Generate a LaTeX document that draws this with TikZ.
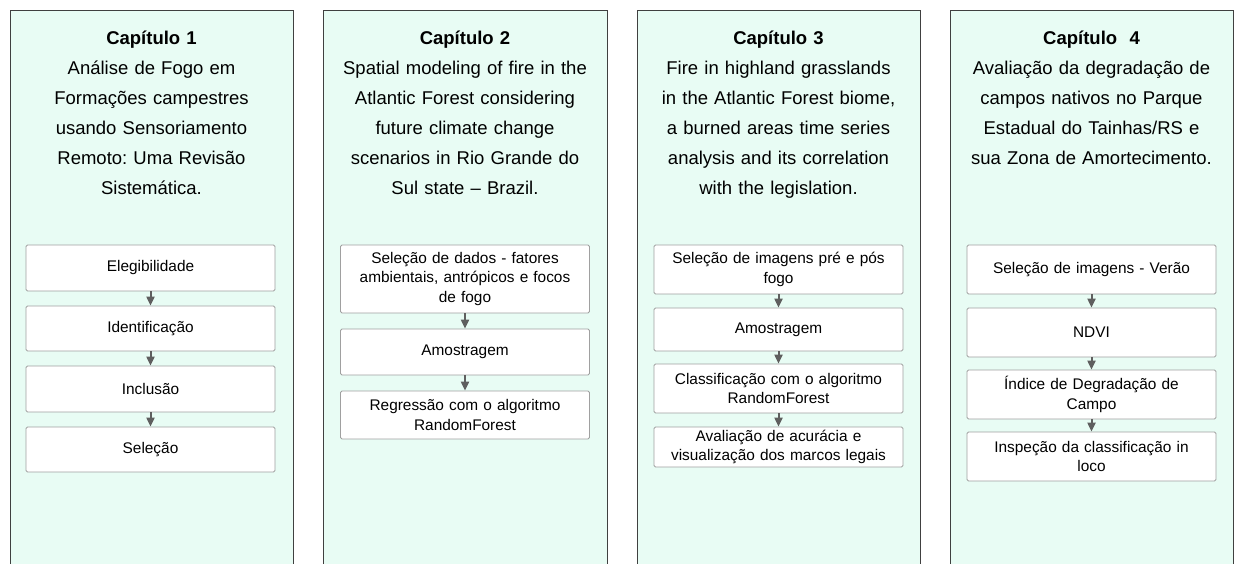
\documentclass[tikz,border=0pt]{standalone}
\usepackage{fontspec}
\setmainfont{Liberation Sans}
\usetikzlibrary{arrows.meta}
\definecolor{menta}{HTML}{E8FCF4}
\definecolor{bordacol}{HTML}{404040}
\definecolor{bordacaixa}{HTML}{A0A0A0}
\definecolor{seta}{HTML}{5F5F5F}
\frenchspacing

\begin{document}
\begin{tikzpicture}[x=1pt,y=-1pt,
    coluna/.style={draw=bordacol, fill=menta, line width=0.9pt},
    titulo/.style={anchor=north, align=center, text width=280pt, inner sep=0pt,
      font=\fontsize{18.5}{30}\selectfont},
    etapa/.style={draw=bordacaixa, fill=white, rounded corners=1.5pt, line width=0.8pt,
      minimum width=249pt, text width=248pt, align=center, inner sep=0pt,
      font=\fontsize{15.4}{19.5}\selectfont},
    fluxo/.style={draw=seta, line width=2pt, -{Triangle[length=9pt,width=8pt]}}]
            \useasboundingbox (0,0) rectangle (1235,564);
            \clip (0,0) rectangle (1235,564);

            % Colunas
            \draw[coluna] (10,10) rectangle (293,600);
            \draw[coluna] (323,10) rectangle (607,600);
            \draw[coluna] (637,10) rectangle (920,600);
            \draw[coluna] (950,10) rectangle (1233,600);

            % Capítulo 1
            \node[titulo] (t1) at (151.5,31) {\textbf{Capítulo 1}\\Análise de Fogo em\\Formações campestres\\usando Sensoriamento\\Remoto: Uma Revisão\\Sistemática.};
            \node[etapa, minimum height=46pt] (c1a) at (150.5,268) {Elegibilidade};
            \node[etapa, minimum height=45pt] (c1b) at (150.5,328.5) {Identificação};
            \node[etapa, minimum height=46pt] (c1c) at (150.5,389) {Inclusão};
            \node[etapa, minimum height=45pt] (c1d) at (150.5,449.5) {Seleção};

            % Capítulo 2
            \node[titulo] (t2) at (465,31) {\textbf{Capítulo 2}\\Spatial modeling of fire in the\\Atlantic Forest considering\\future climate change\\scenarios in Rio Grande do\\Sul state – Brazil.};
            \node[etapa, minimum height=68pt] (c2a) at (465,279) {Seleção de dados - fatores\\ambientais, antrópicos e focos\\de fogo};
            \node[etapa, minimum height=46pt] (c2b) at (465,352) {Amostragem};
            \node[etapa, minimum height=48pt] (c2c) at (465,415) {Regressão com o algoritmo\\RandomForest};

            % Capítulo 3
            \node[titulo] (t3) at (778.5,31) {\textbf{Capítulo 3}\\Fire in highland grasslands\\in the Atlantic Forest biome,\\a burned areas time series\\analysis and its correlation\\with the legislation.};
            \node[etapa, minimum height=49pt] (c3a) at (778.5,269.5) {Seleção de imagens pré e pós\\fogo};
            \node[etapa, minimum height=43pt] (c3b) at (778.5,329.5) {Amostragem};
            \node[etapa, minimum height=49pt] (c3c) at (778.5,388.5) {Classificação com o algoritmo\\RandomForest};
            \node[etapa, minimum height=40pt] (c3d) at (778.5,447) {Avaliação de acurácia e\\visualização dos marcos legais};

            % Capítulo 4
            \node[titulo] (t4) at (1091.5,31) {\textbf{Capítulo~ 4}\\Avaliação da degradação de\\campos nativos no Parque\\Estadual do Tainhas/RS e\\sua Zona de Amortecimento.};
            \node[etapa, minimum height=49pt] (c4a) at (1091.5,269.5) {Seleção de imagens - Verão};
            \node[etapa, minimum height=49pt] (c4b) at (1091.5,332.5) {NDVI};
            \node[etapa, minimum height=49pt] (c4c) at (1091.5,394.5) {Índice de Degradação de\\Campo};
            \node[etapa, minimum height=49pt] (c4d) at (1091.5,456.5) {Inspeção da classificação in\\loco};

            % Setas
            \draw[fluxo] (c1a) -- (c1b);
            \draw[fluxo] (c1b) -- (c1c);
            \draw[fluxo] (c1c) -- (c1d);
            \draw[fluxo] (c2a) -- (c2b);
            \draw[fluxo] (c2b) -- (c2c);
            \draw[fluxo] (c3a) -- (c3b);
            \draw[fluxo] (c3b) -- (c3c);
            \draw[fluxo] (c3c) -- (c3d);
            \draw[fluxo] (c4a) -- (c4b);
            \draw[fluxo] (c4b) -- (c4c);
            \draw[fluxo] (c4c) -- (c4d);
        \end{tikzpicture}
\end{document}
